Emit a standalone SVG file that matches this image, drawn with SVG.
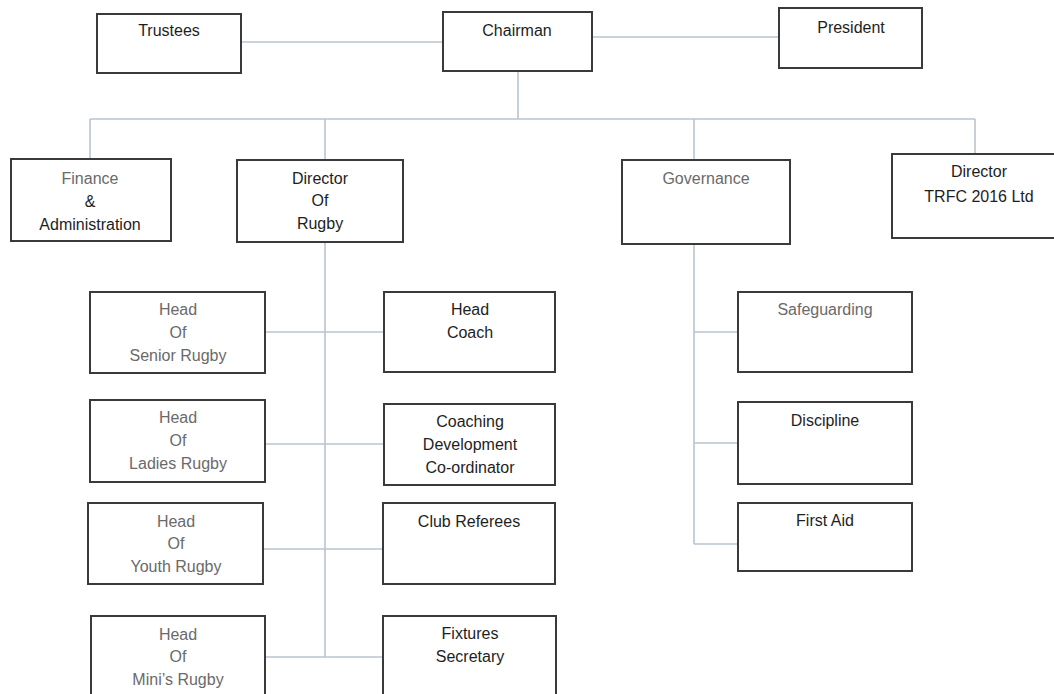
<svg xmlns="http://www.w3.org/2000/svg" width="1054" height="694" viewBox="0 0 1054 694">
<style>
.box{fill:#ffffff;stroke:#3a3a3a;stroke-width:2}
.t{font-family:"Liberation Sans",Arial,sans-serif;font-size:16px;text-anchor:middle;fill:#1e1e1e}
.g{fill:#6a6a6a}
.c{fill:none;stroke:#b9c3d0;stroke-width:1.6}
</style>
<rect x="0" y="0" width="1054" height="694" fill="#ffffff"/>
<g id="connectors">
<line class="c" x1="241" y1="42" x2="443" y2="42"/>
<line class="c" x1="592" y1="37" x2="779" y2="37"/>
<line class="c" x1="518" y1="71" x2="518" y2="119"/>
<line class="c" x1="90" y1="119" x2="975" y2="119"/>
<line class="c" x1="90" y1="119" x2="90" y2="159"/>
<line class="c" x1="325" y1="119" x2="325" y2="160"/>
<line class="c" x1="694" y1="119" x2="694" y2="160"/>
<line class="c" x1="975" y1="119" x2="975" y2="154"/>
<line class="c" x1="325" y1="242" x2="325" y2="657"/>
<line class="c" x1="265" y1="332" x2="384" y2="332"/>
<line class="c" x1="265" y1="444" x2="384" y2="444"/>
<line class="c" x1="263" y1="549" x2="383" y2="549"/>
<line class="c" x1="265" y1="657" x2="383" y2="657"/>
<line class="c" x1="694" y1="244" x2="694" y2="544"/>
<line class="c" x1="694" y1="332" x2="738" y2="332"/>
<line class="c" x1="694" y1="443" x2="738" y2="443"/>
<line class="c" x1="694" y1="544" x2="738" y2="544"/>
</g>
<g id="trustees"><rect class="box" x="97" y="14" width="144" height="59"/><text class="t" x="169" y="36">Trustees</text></g>
<g id="chairman"><rect class="box" x="443" y="12" width="149" height="59"/><text class="t" x="517" y="36">Chairman</text></g>
<g id="president"><rect class="box" x="779" y="8" width="143" height="60"/><text class="t" x="851" y="33">President</text></g>
<g id="finance"><rect class="box" x="11" y="159" width="160" height="82"/><text class="t g" x="90" y="184">Finance</text><text class="t" x="90" y="207">&amp;</text><text class="t" x="90" y="230">Administration</text></g>
<g id="director-rugby"><rect class="box" x="237" y="160" width="166" height="82"/><text class="t" x="320" y="184">Director</text><text class="t" x="320" y="206">Of</text><text class="t" x="320" y="229">Rugby</text></g>
<g id="governance"><rect class="box" x="622" y="160" width="168" height="84"/><text class="t g" x="706" y="184">Governance</text></g>
<g id="director-trfc"><rect class="box" x="892" y="154" width="170" height="84"/><text class="t" x="979" y="177">Director</text><text class="t" x="979" y="202">TRFC 2016 Ltd</text></g>
<g id="head-senior"><rect class="box" x="90" y="292" width="175" height="81"/><text class="t g" x="178" y="315">Head</text><text class="t g" x="178" y="338">Of</text><text class="t g" x="178" y="361">Senior Rugby</text></g>
<g id="head-coach"><rect class="box" x="384" y="292" width="171" height="80"/><text class="t" x="470" y="315">Head</text><text class="t" x="470" y="338">Coach</text></g>
<g id="head-ladies"><rect class="box" x="90" y="400" width="175" height="82"/><text class="t g" x="178" y="423">Head</text><text class="t g" x="178" y="446">Of</text><text class="t g" x="178" y="469">Ladies Rugby</text></g>
<g id="coaching-dev"><rect class="box" x="384" y="404" width="171" height="81"/><text class="t" x="470" y="427">Coaching</text><text class="t" x="470" y="450">Development</text><text class="t" x="470" y="473">Co-ordinator</text></g>
<g id="head-youth"><rect class="box" x="88" y="503" width="175" height="81"/><text class="t g" x="176" y="527">Head</text><text class="t g" x="176" y="549">Of</text><text class="t g" x="176" y="572">Youth Rugby</text></g>
<g id="club-referees"><rect class="box" x="383" y="503" width="172" height="81"/><text class="t" x="469" y="527">Club Referees</text></g>
<g id="head-minis"><rect class="box" x="91" y="616" width="174" height="90"/><text class="t g" x="178" y="640">Head</text><text class="t g" x="178" y="662">Of</text><text class="t g" x="178" y="685">Mini’s Rugby</text></g>
<g id="fixtures"><rect class="box" x="383" y="616" width="173" height="90"/><text class="t" x="470" y="639">Fixtures</text><text class="t" x="470" y="662">Secretary</text></g>
<g id="safeguarding"><rect class="box" x="738" y="292" width="174" height="80"/><text class="t g" x="825" y="315">Safeguarding</text></g>
<g id="discipline"><rect class="box" x="738" y="402" width="174" height="82"/><text class="t" x="825" y="426">Discipline</text></g>
<g id="first-aid"><rect class="box" x="738" y="503" width="174" height="68"/><text class="t" x="825" y="526">First Aid</text></g>
</svg>
